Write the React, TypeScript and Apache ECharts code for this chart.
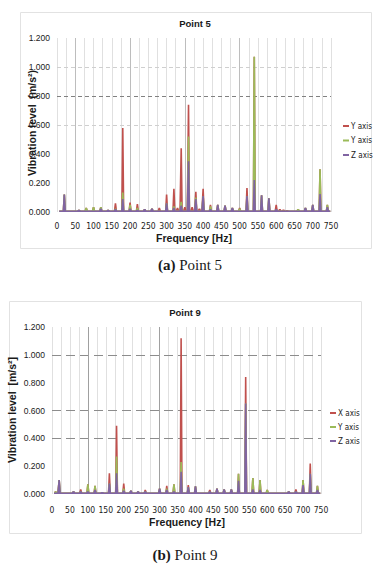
import React, { useEffect, useRef } from 'react';
import * as echarts from 'echarts';

// ---- Point 5 : peak frequencies [Hz] and component amplitudes [m/s²] ----
const p5Freq = [20, 40, 60, 80, 100, 120, 140, 160, 180, 200, 220, 240, 260, 280, 300, 320, 330, 340, 350, 360, 370, 380, 390, 400, 420, 440, 460, 480, 500, 520, 540, 560, 580, 600, 610, 620, 630, 660, 680, 700, 720, 740];
const p5Z = [0.12, 0.005, 0.015, 0.01, 0.01, 0.025, 0.015, 0.02, 0.09, 0.025, 0.015, 0.02, 0.025, 0.01, 0.06, 0.03, 0.01, 0.045, 0.01, 0.35, 0.01, 0.09, 0.01, 0.11, 0.02, 0.05, 0.045, 0.03, 0.01, 0.11, 0.22, 0.115, 0.095, 0.02, 0.01, 0.008, 0.005, 0.005, 0.03, 0.05, 0.125, 0.035];
const p5Y = [0, 0, 0, 0.02, 0.025, 0.01, 0, 0.005, 0.045, 0.025, 0.015, 0, 0, 0, 0, 0.01, 0, 0.025, 0, 0.17, 0, 0.01, 0, 0, 0.02, 0, 0, 0, 0.015, 0, 0.85, 0, 0, 0, 0, 0, 0, 0.015, 0, 0, 0.17, 0.015];
const p5X = [0, 0, 0, 0, 0, 0, 0, 0.035, 0.445, 0.015, 0.025, 0, 0, 0.02, 0.06, 0.12, 0.02, 0.37, 0.025, 0.22, 0.025, 0.04, 0.015, 0.05, 0.01, 0, 0, 0, 0.005, 0.055, 0, 0, 0, 0.03, 0.01, 0.01, 0.008, 0, 0, 0, 0, 0];

// ---- Point 9 ----
const p9Freq = [10, 20, 40, 60, 80, 100, 120, 140, 160, 180, 200, 220, 240, 260, 280, 300, 320, 340, 360, 380, 400, 420, 440, 460, 480, 500, 520, 540, 560, 580, 600, 620, 640, 660, 680, 700, 720, 740];
const p9Z = [0.005, 0.1, 0.005, 0.02, 0.02, 0.02, 0.03, 0.015, 0.075, 0.15, 0.025, 0.025, 0.02, 0.02, 0.01, 0.04, 0.03, 0.02, 0.16, 0.05, 0.055, 0.01, 0.02, 0.04, 0.035, 0.035, 0.095, 0.65, 0.035, 0.03, 0.01, 0.005, 0.005, 0.02, 0.02, 0.065, 0.145, 0.03];
const p9Y = [0.015, 0, 0, 0, 0, 0.05, 0.03, 0, 0, 0.12, 0.015, 0, 0, 0, 0, 0, 0.01, 0.05, 0.07, 0, 0, 0, 0, 0, 0, 0, 0.05, 0, 0.08, 0.07, 0.02, 0, 0, 0, 0, 0.035, 0, 0.03];
const p9X = [0, 0, 0, 0, 0.015, 0, 0, 0, 0.075, 0.22, 0.035, 0, 0, 0.01, 0, 0, 0.02, 0, 0.89, 0.015, 0, 0, 0.01, 0, 0, 0, 0, 0.19, 0, 0, 0, 0, 0, 0, 0.015, 0, 0.075, 0];

// baseline level of the Z component between peaks
const zBase = 0.01;

// horizontal guide lines
const p5Guides = [0.6, 0.8, 1.0];
const p9Guides = [0.4, 0.6, 1.0];
const p5DarkV = [50, 200, 350, 500];
const p9DarkV = [100, 300];

const RED = '#c0504d';
const GREEN = '#9bbb59';
const PURPLE = '#8064a2';
const TEXT = '#1a1a1a';
const NARROW = '"Liberation Sans Narrow", "DejaVu Sans Condensed", "Liberation Sans", sans-serif';
const SANS = '"Liberation Sans", Arial, sans-serif';
const SERIF = '"Liberation Serif", "DejaVu Serif", serif';

const TOP_HALF = 2.2;
const BASE_HALF = 4.6;

// Spike outline for a (cumulative) level list
function spectrum(freqs: number[], vals: number[], base: number) {
  const out: number[][] = [[6, base]];
  freqs.forEach((f, i) => {
    const v = Math.max(vals[i], base);
    out.push([f - BASE_HALF, base], [f - TOP_HALF, v], [f + TOP_HALF, v], [f + BASE_HALF, base]);
  });
  out.push([748, base]);
  return out;
}

function makeX(gridIndex: number, margin: number) {
  return {
    type: 'value', gridIndex, min: 0, max: 750, interval: 25,
    axisLine: { show: false }, axisTick: { show: false },
    splitLine: { show: true, lineStyle: { color: '#e0e0e0', width: 1 } },
    axisLabel: {
      margin, fontSize: 8.5, fontFamily: NARROW, color: TEXT,
      formatter: (v: number) => (v % 50 === 0 ? String(v) : ''),
    },
  };
}
function makeY(gridIndex: number) {
  return {
    type: 'value', gridIndex, min: 0, max: 1.2, interval: 0.2,
    axisLine: { show: false }, axisTick: { show: false }, splitLine: { show: false },
    axisLabel: { margin: 7, fontSize: 8.5, fontFamily: SANS, color: TEXT, formatter: (v: number) => v.toFixed(3) },
  };
}

// Stacked look: total (X+Y+Z) drawn first, then Y+Z, then Z, each filled from 0.
function makeSeries(idx: number, freqs: number[], z: number[], y: number[], x: number[], marks: any[]) {
  const zy = z.map((v, i) => v + y[i]);
  const zyx = zy.map((v, i) => v + x[i]);
  const common = {
    type: 'line', xAxisIndex: idx, yAxisIndex: idx, symbol: 'none', showSymbol: false,
    lineStyle: { width: 0, opacity: 0 }, silent: true,
  };
  return [
    { ...common, name: 'X axis', color: RED, z: 2, areaStyle: { color: RED, opacity: 1 }, data: spectrum(freqs, zyx, zBase),
      markLine: { silent: true, symbol: 'none', label: { show: false }, data: marks, animation: false, z: 1 } },
    { ...common, name: 'Y axis', color: GREEN, z: 3, areaStyle: { color: GREEN, opacity: 1 }, data: spectrum(freqs, zy, zBase) },
    { ...common, name: 'Z axis', color: PURPLE, z: 4, areaStyle: { color: PURPLE, opacity: 1 }, data: spectrum(freqs, z, zBase) },
  ];
}

function txt(x: number, y: number, text: string, size: number, extra: any = {}) {
  return {
    type: 'text', x, y, silent: true, rotation: extra.rotation || 0,
    style: {
      text, fontSize: size, fontFamily: extra.fontFamily || SANS, fontWeight: extra.fontWeight || 'bold',
      fill: TEXT, align: 'center', verticalAlign: 'middle', textAlign: 'center', textVerticalAlign: 'middle',
      rich: extra.rich,
    },
  };
}

export default function App() {
  const ref = useRef<HTMLDivElement>(null);
  useEffect(() => {
    if (!ref.current) return;
    const chart = echarts.init(ref.current, null, { renderer: 'svg' });

    const m5 = [
      ...p5Guides.map((v) => ({ yAxis: v, lineStyle: { color: v === 0.8 ? '#808080' : '#cfcfcf', type: [4, 3], width: 1 } })),
      ...p5DarkV.map((v) => ({ xAxis: v, lineStyle: { color: '#bdbdbd', type: 'solid', width: 1 } })),
    ];
    const m9 = [
      ...p9Guides.map((v) => ({ yAxis: v, lineStyle: { color: '#8c8c8c', type: [9, 5], width: 1 } })),
      ...p9DarkV.map((v) => ({ xAxis: v, lineStyle: { color: '#a0a0a0', type: 'solid', width: 1 } })),
    ];

    const legendBase = {
      orient: 'vertical', icon: 'rect', itemWidth: 6, itemHeight: 2,
      data: ['X axis', 'Y axis', 'Z axis'], selectedMode: false,
      textStyle: { fontSize: 8, fontFamily: NARROW, color: TEXT, lineHeight: 10, padding: [0, 0, 0, -3] },
      padding: 0,
    };

    chart.setOption({
      animation: false,
      backgroundColor: '#ffffff',
      grid: [
        { left: 57, top: 38, width: 274, height: 174 },
        { left: 52, top: 327, width: 269, height: 167 },
      ],
      xAxis: [makeX(0, 9), makeX(1, 11)],
      yAxis: [makeY(0), makeY(1)],
      legend: [
        { ...legendBase, left: 343, top: 121, itemGap: 4.5, formatter: (n: string) => (n === 'X axis' ? 'Y axis' : n) },
        { ...legendBase, left: 330, top: 408, itemGap: 4 },
      ],
      series: [
        ...makeSeries(0, p5Freq, p5Z, p5Y, p5X, m5),
        ...makeSeries(1, p9Freq, p9Z, p9Y, p9X, m9),
      ],
      graphic: [
        { type: 'rect', silent: true, z: -10, shape: { x: 20.5, y: 12.5, width: 351, height: 236 }, style: { fill: 'none', stroke: '#e2e2e2', lineWidth: 1 } },
        { type: 'rect', silent: true, z: -10, shape: { x: 9.5, y: 301.5, width: 352, height: 232 }, style: { fill: 'none', stroke: '#e2e2e2', lineWidth: 1 } },
        txt(195, 23, 'Point 5', 9.5),
        txt(185, 312, 'Point 9', 9.5),
        txt(194, 238, 'Frequency [Hz]', 10.5),
        txt(187, 522, 'Frequency [Hz]', 10.5),
        txt(32, 123, 'Vibration level  (m/s²)', 10.5, { rotation: Math.PI / 2 }),
        txt(12, 410, 'Vibration level  [m/s²]', 10.5, { rotation: Math.PI / 2 }),
        txt(190, 265, '{b|(a)} Point 5', 15, { fontFamily: SERIF, fontWeight: 'normal', rich: { b: { fontWeight: 'bold', fontFamily: SERIF, fontSize: 15 } } }),
        txt(185, 555, '{b|(b)} Point 9', 15, { fontFamily: SERIF, fontWeight: 'normal', rich: { b: { fontWeight: 'bold', fontFamily: SERIF, fontSize: 15 } } }),
      ],
    });
    return () => chart.dispose();
  }, []);
  return <div ref={ref} style={{ position: 'absolute', left: 0, top: 0, width: 382, height: 570 }} />;
}
